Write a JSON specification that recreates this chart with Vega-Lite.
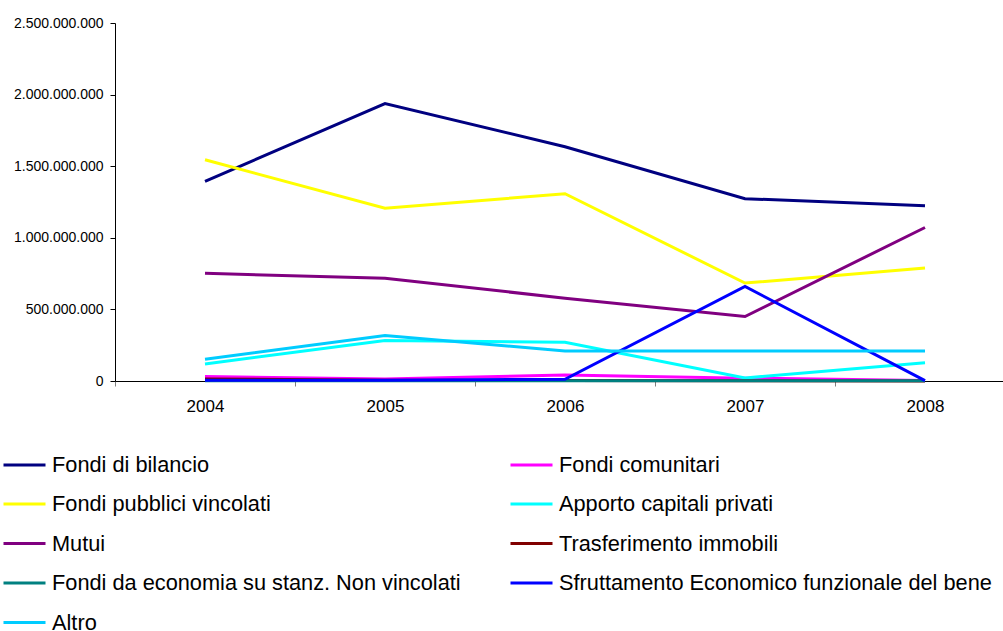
{
  "$schema": "https://vega.github.io/schema/vega-lite/v6.json",
  "width": 888,
  "height": 358,
  "autosize": {"type": "none"},
  "padding": {"left": 115, "top": 23, "right": 0, "bottom": 250},
  "background": "white",
  "config": {
    "view": {"stroke": null},
    "font": "Liberation Sans",
    "axis": {"grid": false, "title": null, "labelFont": "Liberation Sans", "labelColor": "#000000"}
  },
  "data": {
    "values": [
      {"anno": 2004, "serie": "Fondi di bilancio", "valore": 1394000000},
      {"anno": 2005, "serie": "Fondi di bilancio", "valore": 1937000000},
      {"anno": 2006, "serie": "Fondi di bilancio", "valore": 1636000000},
      {"anno": 2007, "serie": "Fondi di bilancio", "valore": 1273000000},
      {"anno": 2008, "serie": "Fondi di bilancio", "valore": 1224000000},
      {"anno": 2004, "serie": "Fondi comunitari", "valore": 31000000},
      {"anno": 2005, "serie": "Fondi comunitari", "valore": 14000000},
      {"anno": 2006, "serie": "Fondi comunitari", "valore": 42000000},
      {"anno": 2007, "serie": "Fondi comunitari", "valore": 20000000},
      {"anno": 2008, "serie": "Fondi comunitari", "valore": 4000000},
      {"anno": 2004, "serie": "Fondi pubblici vincolati", "valore": 1545000000},
      {"anno": 2005, "serie": "Fondi pubblici vincolati", "valore": 1206000000},
      {"anno": 2006, "serie": "Fondi pubblici vincolati", "valore": 1308000000},
      {"anno": 2007, "serie": "Fondi pubblici vincolati", "valore": 684000000},
      {"anno": 2008, "serie": "Fondi pubblici vincolati", "valore": 789000000},
      {"anno": 2004, "serie": "Apporto capitali privati", "valore": 119000000},
      {"anno": 2005, "serie": "Apporto capitali privati", "valore": 282000000},
      {"anno": 2006, "serie": "Apporto capitali privati", "valore": 271000000},
      {"anno": 2007, "serie": "Apporto capitali privati", "valore": 21000000},
      {"anno": 2008, "serie": "Apporto capitali privati", "valore": 128000000},
      {"anno": 2004, "serie": "Mutui", "valore": 752000000},
      {"anno": 2005, "serie": "Mutui", "valore": 718000000},
      {"anno": 2006, "serie": "Mutui", "valore": 578000000},
      {"anno": 2007, "serie": "Mutui", "valore": 450000000},
      {"anno": 2008, "serie": "Mutui", "valore": 1072000000},
      {"anno": 2004, "serie": "Trasferimento immobili", "valore": 14000000},
      {"anno": 2005, "serie": "Trasferimento immobili", "valore": 6000000},
      {"anno": 2006, "serie": "Trasferimento immobili", "valore": 3000000},
      {"anno": 2007, "serie": "Trasferimento immobili", "valore": 1000000},
      {"anno": 2008, "serie": "Trasferimento immobili", "valore": 0},
      {"anno": 2004, "serie": "Fondi da economia su stanz. Non vincolati", "valore": 2000000},
      {"anno": 2005, "serie": "Fondi da economia su stanz. Non vincolati", "valore": 2000000},
      {"anno": 2006, "serie": "Fondi da economia su stanz. Non vincolati", "valore": 2000000},
      {"anno": 2007, "serie": "Fondi da economia su stanz. Non vincolati", "valore": 2000000},
      {"anno": 2008, "serie": "Fondi da economia su stanz. Non vincolati", "valore": 2000000},
      {"anno": 2004, "serie": "Sfruttamento Economico funzionale del bene", "valore": 5000000},
      {"anno": 2005, "serie": "Sfruttamento Economico funzionale del bene", "valore": 5000000},
      {"anno": 2006, "serie": "Sfruttamento Economico funzionale del bene", "valore": 12000000},
      {"anno": 2007, "serie": "Sfruttamento Economico funzionale del bene", "valore": 660000000},
      {"anno": 2008, "serie": "Sfruttamento Economico funzionale del bene", "valore": 3000000},
      {"anno": 2004, "serie": "Altro", "valore": 152000000},
      {"anno": 2005, "serie": "Altro", "valore": 317000000},
      {"anno": 2006, "serie": "Altro", "valore": 210000000},
      {"anno": 2007, "serie": "Altro", "valore": 210000000},
      {"anno": 2008, "serie": "Altro", "valore": 210000000}
    ]
  },
  "mark": {"type": "line", "strokeWidth": 3, "strokeJoin": "miter", "strokeCap": "butt"},
  "encoding": {
    "x": {
      "field": "anno",
      "type": "quantitative",
      "scale": {"domain": [2003.5, 2008.4333], "nice": false, "zero": false},
      "axis": {
        "values": [2003.5, 2004.5, 2005.5, 2006.5, 2007.5],
        "labelExpr": "'' + (datum.value + 0.5)",
        "labelOffset": 90,
        "labelFontSize": 17,
        "labelPadding": 12,
        "labelBound": false,
        "labelFlush": false,
        "labelOverlap": false,
        "tickSize": 5,
        "tickColor": "#808080",
        "tickWidth": 1,
        "domainColor": "#000000",
        "domainWidth": 1
      }
    },
    "y": {
      "field": "valore",
      "type": "quantitative",
      "scale": {"domain": [0, 2500000000], "nice": false},
      "axis": {
        "values": [0, 500000000, 1000000000, 1500000000, 2000000000, 2500000000],
        "labelExpr": "replace(format(datum.value, ','), regexp(',', 'g'), '.')",
        "labelFontSize": 14,
        "labelPadding": 7,
        "tickSize": 5,
        "tickColor": "#000000",
        "domainColor": "#000000",
        "labelColor": "#000000"
      }
    },
    "color": {
      "field": "serie",
      "type": "nominal",
      "sort": null,
      "scale": {
        "domain": [
          "Fondi di bilancio",
          "Fondi comunitari",
          "Fondi pubblici vincolati",
          "Apporto capitali privati",
          "Mutui",
          "Trasferimento immobili",
          "Fondi da economia su stanz. Non vincolati",
          "Sfruttamento Economico funzionale del bene",
          "Altro"
        ],
        "range": ["#000080", "#FF00FF", "#FFFF00", "#00FFFF", "#800080", "#800000", "#008080", "#0000FF", "#00CCFF"]
      },
      "legend": {
        "title": null,
        "orient": "none",
        "direction": "horizontal",
        "legendX": -113,
        "legendY": 419,
        "columns": 2,
        "columnPadding": 43,
        "rowPadding": 4.5,
        "symbolType": "stroke",
        "symbolSize": 1764,
        "symbolStrokeWidth": 3,
        "labelFontSize": 21.75,
        "labelFont": "Liberation Sans",
        "labelColor": "#000000",
        "labelOffset": 5,
        "labelLimit": 700
      }
    }
  }
}
